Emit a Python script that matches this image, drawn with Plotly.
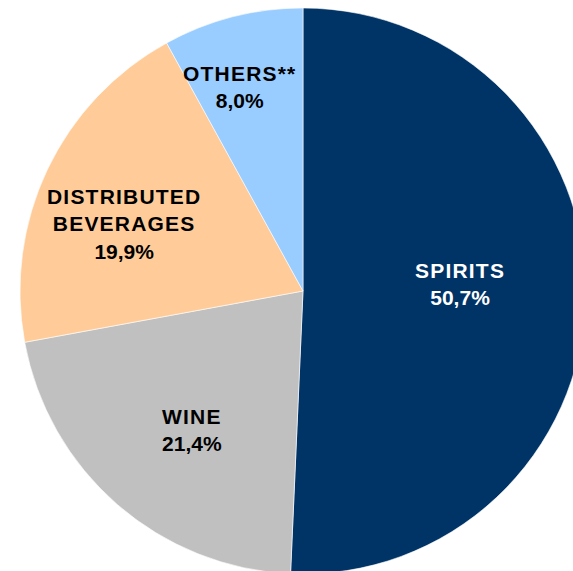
import math
import plotly.graph_objects as go

# Sales breakdown by segment (share of total, %)
categories = ["SPIRITS", "WINE", "DISTRIBUTED|BEVERAGES", "OTHERS**"]
shares = [50.7, 21.4, 19.9, 8.0]

slice_colors = ["#003366", "#C0C0C0", "#FFCC99", "#99CCFF"]
label_colors = ["#FFFFFF", "#000000", "#000000", "#000000"]

# label placement: fraction of radius and small angular nudge (degrees)
label_radius = [0.555, 0.63, 0.677, 0.755]
label_nudge = [-3.7, -2.4, -4.9, -2.8]

W, H = 606, 582
M_L, M_R, M_T, M_B = 0, 0, 8, 8

fig = go.Figure(
    go.Pie(
        labels=[c.replace("|", " ") for c in categories],
        values=shares,
        sort=False,
        direction="clockwise",
        rotation=0,
        marker=dict(colors=slice_colors, line=dict(color="#FFFFFF", width=0.6)),
        textinfo="none",
        hoverinfo="skip",
        showlegend=False,
        domain=dict(x=[0, 1], y=[0, 1]),
    )
)

plot_w = W - M_L - M_R
plot_h = H - M_T - M_B
radius = min(plot_w, plot_h) / 2
total = sum(shares)

annotations = []
start = 0.0
for name, val, col, rf, nudge in zip(categories, shares, label_colors, label_radius, label_nudge):
    sweep = val / total * 360.0
    theta = math.radians(start + sweep / 2 + nudge)
    start += sweep
    x = 0.5 + rf * radius * math.sin(theta) / plot_w
    y = 0.5 + rf * radius * math.cos(theta) / plot_h
    name_lines = "<br>".join(
        f"<span style='letter-spacing:1.2px'>{part}</span>" for part in name.split("|")
    )
    value_txt = f"{val:.1f}".replace(".", ",") + "%"
    annotations.append(
        dict(
            x=x, y=y, xref="paper", yref="paper",
            text=f"{name_lines}<br>{value_txt}",
            showarrow=False,
            xanchor="center", yanchor="middle",
            align="center",
            font=dict(family="Liberation Sans, Arial, sans-serif", size=21,
                      color=col, weight="bold"),
        )
    )

fig.update_layout(
    width=W, height=H,
    margin=dict(l=M_L, r=M_R, t=M_T, b=M_B, pad=0),
    paper_bgcolor="#FFFFFF",
    plot_bgcolor="#FFFFFF",
    annotations=annotations,
)

fig.write_html(
    "out.html",
    post_script="document.documentElement.style.overflow='hidden';"
                "document.body.style.overflow='hidden';",
)
